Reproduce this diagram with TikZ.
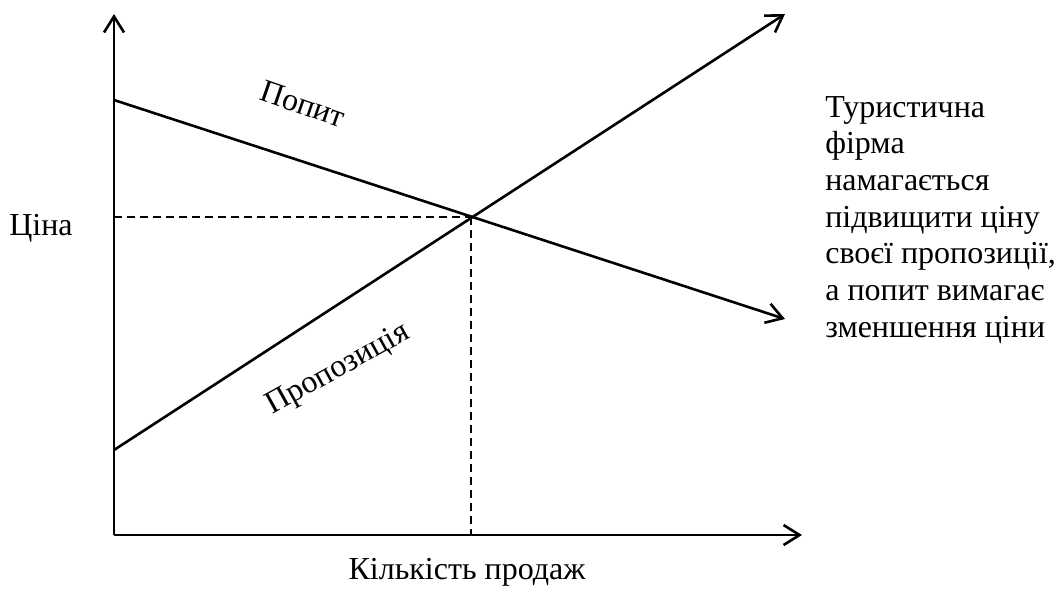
\documentclass[tikz,border=0pt]{standalone}
\usepackage{fontspec}
\setmainfont{Liberation Serif}
\usetikzlibrary{arrows.meta}

\begin{document}
\begin{tikzpicture}[x=0.5pt, y=-0.5pt, line width=1.3pt,
        font=\fontsize{16}{19}\selectfont,
        axis/.style={-{Straight Barb[length=8pt,width=10pt]}},
        guide/.style={line width=0.8pt, dash pattern=on 4pt off 2.5pt}]
        \useasboundingbox (0,0) rectangle (1059,595);
        \coordinate (o) at (114,535);
        \coordinate (ytop) at (114,14);
        \coordinate (xend) at (802,535);
        \coordinate (d0) at (114,100);
        \coordinate (d1) at (785,319);
        \coordinate (s0) at (114,450);
        \coordinate (s1) at (785,14);
        \coordinate (eq) at (471,217);
        \path[draw, axis] (o) -- (ytop);
        \path[draw, axis] (o) -- (xend);
        \path[draw, axis] (d0) -- (d1);
        \path[draw, axis] (s0) -- (s1);
        \path[draw, guide] (o |- eq) -- (eq);
        \path[draw, guide] (eq) -- (eq |- o);
        \node[anchor=base] (price) at (41,235) {Ціна};
        \node[anchor=base] (qty) at (467,579) {Кількість продаж};
        \node[rotate=-19] (demand) at (303,104) {Попит};
        \node[rotate=29] (supply) at (338,370) {Пропозиція};
        \foreach \i/\w in {1/Туристична, 2/фірма, 3/намагається, 4/підвищити ціну,
            5/{своєї пропозиції,}, 6/а попит вимагає, 7/зменшення ціни}{
            \node[anchor=base west, inner sep=0pt] (t\i) at (824,80.3+36.7*\i) {\w};
        }
    \end{tikzpicture}
\end{document}
